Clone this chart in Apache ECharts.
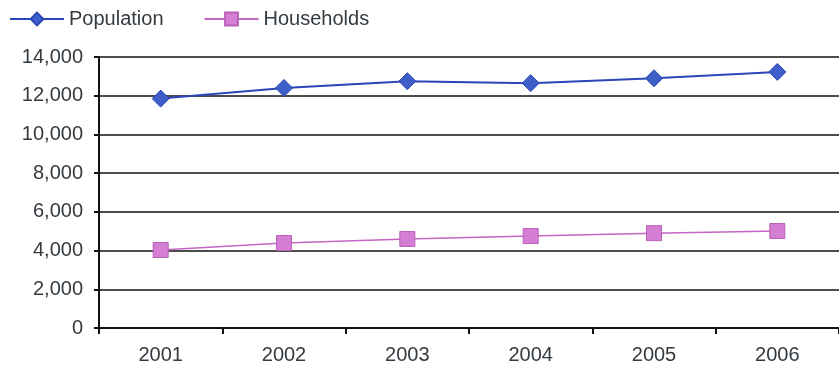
<!DOCTYPE html>
<html><head><meta charset="utf-8">
<script src="https://cdn.jsdelivr.net/npm/echarts@6/dist/echarts.min.js"></script>
<style>html,body{margin:0;padding:0;background:#fff}#c{width:839px;height:369px}</style>
</head><body><div id="c"></div>
<script>
var categories = ['2001','2002','2003','2004','2005','2006'];
var population = [11850, 12400, 12750, 12650, 12900, 13230];
var households = [4030, 4390, 4600, 4750, 4900, 5010];
var yTicks = [0, 2000, 4000, 6000, 8000, 10000, 12000, 14000];

var chart = echarts.init(document.getElementById('c'));
var font = 'Liberation Sans, Arial, sans-serif';
chart.setOption({
  animation: false,
  backgroundColor: '#fff',
  legend: {
    left: 4, top: 4, itemWidth: 54, itemHeight: 16, itemGap: 40,
    textStyle: {fontFamily: font, fontSize: 20, color: '#333a40'},
    data: ['Population', 'Households']
  },
  grid: {left: 99, top: 57, bottom: 41, right: -8},
  xAxis: {
    type: 'category', data: categories, boundaryGap: true,
    axisLine: {lineStyle: {color: '#111', width: 2}},
    axisTick: {show: true, length: 6, lineStyle: {color: '#111', width: 2}},
    axisLabel: {fontFamily: font, fontSize: 20, color: '#333a40', margin: 17}
  },
  yAxis: {
    type: 'value', min: yTicks[0], max: yTicks[yTicks.length-1], interval: 2000,
    axisLine: {show: true, lineStyle: {color: '#111', width: 2}},
    axisTick: {show: true, length: 5, lineStyle: {color: '#111', width: 2}},
    axisLabel: {fontFamily: font, fontSize: 20, color: '#333a40', margin: 16,
      formatter: function(v){ return v.toLocaleString('en-US'); }},
    splitLine: {lineStyle: {color: '#111', width: 1.5}}
  },
  series: [
    {name: 'Population', type: 'line', data: population,
     symbol: 'diamond', symbolSize: 17,
     lineStyle: {color: '#2b46b8', width: 2},
     itemStyle: {color: '#3f5fc8', borderColor: '#2b46b8', borderWidth: 1}},
    {name: 'Households', type: 'line', data: households,
     symbol: 'rect', symbolSize: 15,
     lineStyle: {color: '#c466c4', width: 1.5},
     itemStyle: {color: '#d47fd4', borderColor: '#b860b8', borderWidth: 1}}
  ]
});
</script></body></html>
